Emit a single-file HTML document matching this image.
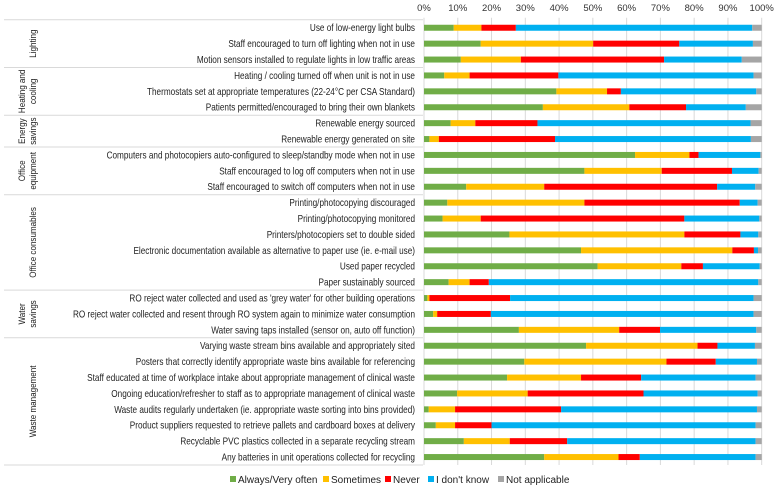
<!DOCTYPE html>
<html><head><meta charset="utf-8"><style>
html,body{margin:0;padding:0;background:#fff}
#c{position:relative;width:775px;height:490px;overflow:hidden;font-family:"Liberation Sans",sans-serif;color:#222}
svg text{font-family:"Liberation Sans",sans-serif}
</style></head><body>
<div id="c">
<svg id="s" width="775" height="490"></svg>
</div>
<script>
const categories=["Use of low-energy light bulbs","Staff encouraged to turn off lighting when not in use","Motion sensors installed to regulate lights in low traffic areas","Heating / cooling turned off when unit is not in use","Thermostats set at appropriate temperatures (22-24°C per CSA Standard)","Patients permitted/encouraged to bring their own blankets","Renewable energy sourced","Renewable energy generated on site","Computers and photocopiers auto-configured to sleep/standby mode when not in use","Staff encouraged to log off computers when not in use","Staff encouraged to switch off computers when not in use","Printing/photocopying discouraged","Printing/photocopying monitored","Printers/photocopiers set to double sided","Electronic documentation available as alternative to paper use (ie. e-mail use)","Used paper recycled","Paper sustainably sourced","RO reject water collected and used as 'grey water' for other building operations","RO reject water collected and resent through RO system again to minimize water consumption","Water saving taps installed (sensor on, auto off function)","Varying waste stream bins available and appropriately sited","Posters that correctly identify appropriate waste bins available for referencing","Staff educated at time of workplace intake about appropriate management of clinical waste","Ongoing education/refresher to staff as to appropriate management of clinical waste","Waste audits regularly undertaken (ie. appropriate waste sorting into bins provided)","Product suppliers requested to retrieve pallets and cardboard boxes at delivery","Recyclable PVC plastics collected in a separate recycling stream","Any batteries in unit operations collected for recycling"];
const always=[8.8,16.8,10.9,6,39.2,35.2,7.9,1.6,62.5,47.5,12.5,6.9,5.5,25.3,46.5,51.4,7.3,1,2.7,28.1,48,29.7,24.6,9.8,1.4,3.5,11.8,35.6];
const sometimes=[8.2,33.3,17.8,7.5,15,25.6,7.3,2.8,16.1,22.9,23.1,40.6,11.3,51.8,44.8,24.8,6.2,0.6,1.2,29.7,33,42.1,21.9,20.9,7.8,5.7,13.6,22];
const never=[10.2,25.5,42.4,26.3,4.1,16.8,18.4,34.4,2.7,20.8,51.2,46,60.3,16.6,6.4,6.4,5.7,23.9,15.9,12.1,5.9,14.6,17.8,34.3,31.4,10.8,17,6.3];
const dontknow=[70,21.8,23,57.8,40.1,17.7,63.1,58,18.3,7.9,11.3,5.3,22.2,5.3,1.2,16.8,79.8,72.1,77.8,28.5,11.1,12.2,33.9,33.8,58,78.2,55.8,34.3];
const notapp=[2.8,2.6,5.9,2.4,1.6,4.7,3.3,3.2,0.4,0.9,1.9,1.2,0.7,1,1.1,0.6,1,2.4,2.4,1.6,2,1.4,1.8,1.2,1.4,1.8,1.8,1.8];
const seriesNames=["Always/Very often","Sometimes","Never","I don't know","Not applicable"];
const seriesColors=["#70ad47","#ffc000","#ff0000","#00b0f0","#a5a5a5"];
const tickLabels=["0%","10%","20%","30%","40%","50%","60%","70%","80%","90%","100%"];
const tickValues=[0,10,20,30,40,50,60,70,80,90,100];
const groups=[["Lighting"],["Heating and","cooling"],["Energy","savings"],["Office","equipment"],["Office consumables"],["Water","savings"],["Waste management"]];
const groupSizes=[3,3,2,3,6,3,8];

const NS="http://www.w3.org/2000/svg";
const svg=document.getElementById('s');
const X0=424,X1=761.7,Y0=19.8,RH=15.9;
const x=v=>X0+(X1-X0)*v/100;
const yc=i=>Y0+RH*(i+0.5);
function mk(t,a,p){const e=document.createElementNS(NS,t);for(const k in a)e.setAttribute(k,a[k]);(p||svg).appendChild(e);return e;}
const nRows=categories.length;
const yBottom=Y0+RH*nRows;
tickValues.forEach((tv,i)=>{
  const g=mk('line',{x1:x(tv),x2:x(tv),y1:Y0-2,y2:yBottom,stroke:'#d9d9d9','stroke-width':1});
  
  
  const t=mk('text',{x:x(tv),y:11,'font-size':9.5,'text-anchor':'middle',fill:'#333'});
  t.textContent=tickLabels[i];
  
  
});
let start=0;
groups.forEach((lines,gi)=>{
  const yTop=Y0+RH*start;
  const l=mk('line',{x1:4,x2:423,y1:yTop,y2:yTop,stroke:'#d9d9d9','stroke-width':1});
  
  
  const ymid=yTop+RH*groupSizes[gi]/2;
  lines.forEach((ln,li)=>{
    const xx=lines.length===1?36:(li===0?25:36);
    const t=mk('text',{x:0,y:0,'font-size':9.5,'text-anchor':'middle',transform:`translate(${xx} ${ymid}) rotate(-90) scale(0.85 1)`,fill:'#222'});
    t.textContent=ln;
    
    
  });
  start+=groupSizes[gi];
});
const lb=mk('line',{x1:4,x2:423,y1:yBottom,y2:yBottom,stroke:'#d9d9d9','stroke-width':1});


const series=[always,sometimes,never,dontknow,notapp];
categories.forEach((c,i)=>{
  const t=mk('text',{x:415,y:yc(i)+3.5,'font-size':10,'text-anchor':'end',fill:'#222',transform:`translate(${415*0.18} 0) scale(0.82 1)`});
  t.textContent=c;
  
  
  let acc=0;
  series.forEach((s,si)=>{
    const v=s[i];
    const r=mk('rect',{x:x(acc),y:yc(i)-3,width:Math.max(0,x(acc+v)-x(acc)),height:6,fill:seriesColors[si]});
    
    
    acc+=v;
  });
});
const legX=[230,323,385,428,498];
seriesNames.forEach((n,i)=>{
  const r=mk('rect',{x:legX[i],y:476,width:6,height:6,fill:seriesColors[i]});
  
  
  const t=mk('text',{x:legX[i]+8,y:483,'font-size':10,fill:'#222'});
  t.textContent=n;
  
  
});
</script>
</body></html>
